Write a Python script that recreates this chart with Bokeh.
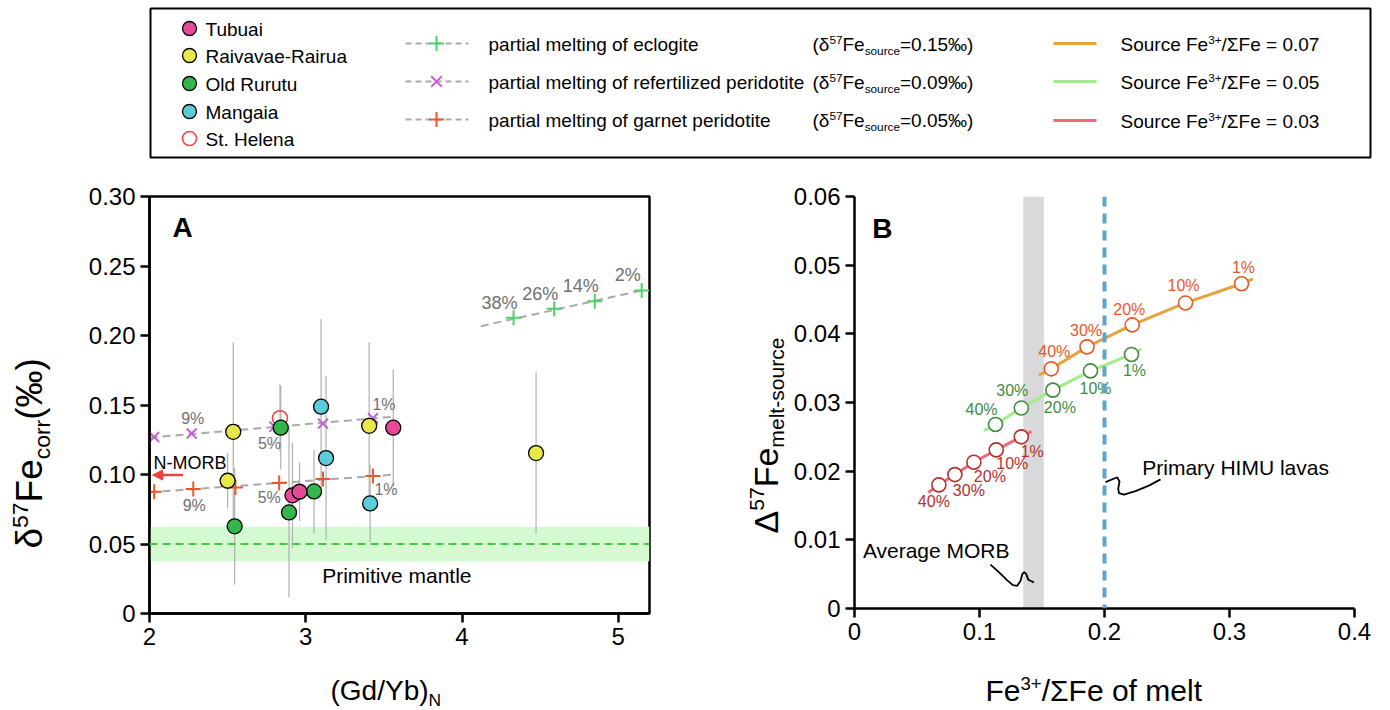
import math
from bokeh.plotting import figure
from bokeh.models import (Range1d, BoxAnnotation, Span, Arrow, NormalHead,
                          FixedTicker, CustomJSTickFormatter)
from bokeh.layouts import column, row
from bokeh.embed import file_html
from bokeh.resources import INLINE
from bokeh.core.properties import value

FONT = "Liberation Sans"

# ---------------- Panel A data ----------------
tubuai_x = [2.915, 2.96, 3.56]
tubuai_y = [0.085, 0.0876, 0.1337]
tubuai_err = [0.038, 0.021, 0.042]

raivavae_x = [2.536, 2.50, 3.406, 4.474]
raivavae_y = [0.1307, 0.0955, 0.135, 0.1154]
raivavae_err = [0.064, 0.02, 0.06, 0.058]

rurutu_x = [2.84, 2.545, 2.893, 3.053]
rurutu_y = [0.1337, 0.0627, 0.0727, 0.0878]
rurutu_err = [0.03, 0.042, 0.061, 0.03]

mangaia_x = [3.098, 3.13, 3.412]
mangaia_y = [0.1488, 0.1118, 0.0792]
mangaia_err = [0.063, 0.059, 0.028]

helena_x = [2.835]
helena_y = [0.1405]
helena_err = [0.024]

eclogite_x = [4.33, 4.59, 4.85, 5.15]
eclogite_y = [0.2127, 0.2192, 0.2247, 0.2324]
eclogite_lbl = ["38%", "26%", "14%", "2%"]
eclogite_trend_x = [4.12, 5.15]
eclogite_trend_y = [0.2067, 0.2324]

refert_x = [2.03, 2.27, 2.54, 2.80, 3.11, 3.43]
refert_y = [0.127, 0.1295, 0.132, 0.1344, 0.1366, 0.1405]
refert_lbl = ["", "9%", "", "5%", "", "1%"]
refert_trend_x = [2.0, 3.55]
refert_trend_y = [0.1265, 0.1415]

garnet_x = [2.03, 2.28, 2.55, 2.83, 3.11, 3.43]
garnet_y = [0.0876, 0.0895, 0.0907, 0.0938, 0.0967, 0.099]
garnet_lbl = ["", "9%", "", "5%", "", "1%"]
garnet_trend_x = [2.0, 3.55]
garnet_trend_y = [0.0872, 0.0998]

nmorb_y = 0.0996
nmorb_x = [2.215, 2.02]
pm_value = 0.05
pm_band = [0.0376, 0.0625]

a_xticks = [2, 3, 4, 5]
a_yticks = [0, 0.05, 0.10, 0.15, 0.20, 0.25, 0.30]

# ---------------- Panel B data ----------------
orange_x = [0.3096, 0.2648, 0.2222, 0.186, 0.1574]
orange_y = [0.0473, 0.0445, 0.0413, 0.0381, 0.0349]
orange_lbl = ["1%", "10%", "20%", "30%", "40%"]
orange_ends_x = [0.3187, 0.1475]
orange_ends_y = [0.0480, 0.0340]

green_x = [0.2216, 0.1888, 0.1587, 0.1334, 0.1128]
green_y = [0.0370, 0.0346, 0.0318, 0.0292, 0.0268]
green_lbl = ["1%", "10%", "20%", "30%", "40%"]
green_ends_x = [0.2296, 0.1035]
green_ends_y = [0.0378, 0.0259]

red_x = [0.1334, 0.1134, 0.0955, 0.0803, 0.0675]
red_y = [0.0250, 0.0231, 0.0213, 0.0195, 0.0180]
red_lbl = ["1%", "10%", "20%", "30%", "40%"]
red_ends_x = [0.1416, 0.0590]
red_ends_y = [0.0258, 0.0169]

morb_band = [0.135, 0.1515]
himu_x = 0.2

morb_curve_x = [0.1088, 0.1155, 0.1222, 0.1267, 0.1302, 0.1328, 0.1342, 0.1358, 0.1374, 0.139, 0.1411, 0.1435]
morb_curve_y = [0.0064, 0.0053, 0.0041, 0.0034, 0.0033, 0.0040, 0.0050, 0.0053, 0.0050, 0.0042, 0.0040, 0.0038]
himu_curve_x = [0.2008, 0.2088, 0.2102, 0.212, 0.211, 0.2115, 0.2155, 0.2248, 0.2355, 0.2448]
himu_curve_y = [0.0184, 0.0190, 0.0191, 0.0185, 0.0175, 0.0168, 0.0166, 0.0171, 0.0179, 0.0188]

b_xticks = [0, 0.1, 0.2, 0.3, 0.4]
b_yticks = [0, 0.01, 0.02, 0.03, 0.04, 0.05, 0.06]

# ---------------- colours ----------------
C_TUB = "#e64a97"
C_RAI = "#e5e848"
C_RUR = "#33b74b"
C_MAN = "#5ccdd8"
C_HEL = "#ee4444"
C_ECL = "#4fd068"
C_REF = "#c462d4"
C_GRT = "#e8582c"
C_TREND = "#aaaaaa"
C_PCT = "#707070"
C_OR_L, C_OR_M = "#e6a43f", "#e8582c"
C_GR_L, C_GR_M = "#a5ea8b", "#3f8c3f"
C_RD_L, C_RD_M = "#f26b7c", "#b3302f"

# Arial / Liberation Sans advance widths (per 1000 em)
WID = {' ': 278, '(': 333, ')': 333, '+': 584, '-': 333, '.': 278, '/': 278, '=': 584,
       'F': 611, 'G': 778, 'N': 722, 'S': 667, 'Y': 667, 'b': 556, 'c': 500, 'd': 556,
       'e': 556, 'f': 278, 'l': 222, 'm': 833, 'o': 556, 'r': 333, 's': 500, 't': 278,
       'u': 556, '‰': 1000, 'δ': 556, 'Δ': 668, 'Σ': 600}


def tw(s, fs):
    return sum(WID.get(ch, 556) for ch in s) * fs / 1000.0


def rich(p, x, y, parts, fs, vertical=False, color="black"):
    """Composite text (super/subscripts); (x, y) is the middle line of the main text,
    in a page-pixel figure whose y axis points down."""
    pos = 0.0
    for txt, kind in parts:
        size = fs if kind == "n" else fs * 0.62
        up = 0 if kind == "n" else (fs * 0.25 if kind == "sup" else -fs * 0.33)
        if vertical:
            gx, gy = x - up, y - pos
        else:
            gx, gy = x + pos, y - up
        p.text(x=[gx], y=[gy], text=[txt], angle=math.pi / 2 if vertical else 0,
               text_font=value(FONT), text_font_size=f"{size:.1f}px", text_align="left",
               text_baseline="middle", text_color=color)
        pos += tw(txt, size)


def pixel_fig(x0, x1, y0, y1):
    p = figure(frame_width=x1 - x0, frame_height=y1 - y0, x_range=Range1d(x0, x1),
               y_range=Range1d(y1, y0), x_axis_type=None, y_axis_type=None,
               toolbar_location=None, output_backend="svg", min_border=0)
    p.outline_line_color = None
    p.grid.visible = False
    return p


def style_axes(p):
    for ax in p.axis:
        ax.axis_line_width = 2.5
        ax.axis_line_color = "black"
        ax.major_tick_line_width = 2.5
        ax.major_tick_out = 9
        ax.major_tick_in = 0
        ax.minor_tick_line_color = None
        ax.major_label_text_font = FONT
        ax.major_label_text_font_size = "24px"
        ax.major_label_text_color = "black"
        ax.major_label_standoff = 5
    p.grid.visible = False


def pct_labels(p, xs, ys, labels, dxs, dys, color, fs):
    sel = [i for i, t in enumerate(labels) if t]
    p.text(x=[xs[i] for i in sel], y=[ys[i] for i in sel], text=[labels[i] for i in sel],
           x_offset=[dxs[i] for i in sel], y_offset=[dys[i] for i in sel],
           text_align="center", text_baseline="middle", text_font=value(FONT),
           text_font_size=fs, text_color=color)


# ================= Legend (page pixels) =================
pl = pixel_fig(0, 1390, 0, 168)
pl.quad(left=[150], right=[1370], top=[8], bottom=[157], fill_color=None,
        line_color="black", line_width=2)

LFS = 19
leg1_rows = [28, 55, 83, 111, 138]
leg1_names = ["Tubuai", "Raivavae-Rairua", "Old Rurutu", "Mangaia", "St. Helena"]
leg1_fill = [C_TUB, C_RAI, C_RUR, C_MAN, None]
leg1_line = ["black", "black", "black", "black", C_HEL]
for yy, nm, fc, lc in zip(leg1_rows, leg1_names, leg1_fill, leg1_line):
    pl.scatter([189], [yy], marker="circle", size=14, fill_color=fc, line_color=lc,
               line_width=1.3 if lc == "black" else 1.6)
    pl.text(x=[205], y=[yy + 1], text=[nm], text_font=value(FONT), text_font_size=f"{LFS}px",
            text_baseline="middle", text_color="black")

leg2_rows = [43, 81, 119]
leg2_names = ["partial melting of eclogite", "partial melting of refertilized peridotite",
              "partial melting of garnet peridotite"]
leg2_marks = ["cross", "x", "cross"]
leg2_cols = [C_ECL, C_REF, C_GRT]
leg2_src = ["0.15", "0.09", "0.05"]
for yy, nm, mk, col, sv in zip(leg2_rows, leg2_names, leg2_marks, leg2_cols, leg2_src):
    pl.line([405, 468], [yy, yy], line_color=C_TREND, line_width=2, line_dash="6 4")
    pl.scatter([436], [yy], marker=mk, size=15, line_color=col, line_width=2)
    pl.text(x=[488], y=[yy + 1], text=[nm], text_font=value(FONT), text_font_size=f"{LFS}px",
            text_baseline="middle", text_color="black")
    rich(pl, 812, yy + 1, [("(δ", "n"), ("57", "sup"), ("Fe", "n"), ("source", "sub"),
                           ("=" + sv + "‰)", "n")], LFS)

leg3_rows = [43, 81, 120]
leg3_cols = [C_OR_L, C_GR_L, C_RD_L]
leg3_vals = ["0.07", "0.05", "0.03"]
for yy, col, sv in zip(leg3_rows, leg3_cols, leg3_vals):
    pl.line([1053, 1096], [yy, yy], line_color=col, line_width=3)
    rich(pl, 1120, yy + 1, [("Source Fe", "n"), ("3+", "sup"), ("/ΣFe = " + sv, "n")], LFS)

# ================= Panel A =================
pa = figure(frame_width=500, frame_height=417, x_range=Range1d(2, 5.2), y_range=Range1d(0, 0.30),
            toolbar_location=None, output_backend="svg",
            min_border_left=74, min_border_right=31, min_border_top=28, min_border_bottom=52)
style_axes(pa)
pa.xaxis.ticker = FixedTicker(ticks=a_xticks)
pa.yaxis.ticker = FixedTicker(ticks=a_yticks)
pa.xaxis.formatter = CustomJSTickFormatter(code="return tick.toFixed(0);")
pa.yaxis.formatter = CustomJSTickFormatter(code="return tick == 0 ? '0' : tick.toFixed(2);")
pa.outline_line_color = "black"
pa.outline_line_width = 2.5

pa.add_layout(BoxAnnotation(bottom=pm_band[0], top=pm_band[1], fill_color="#d5f9d0",
                            fill_alpha=1.0, line_color=None, level="underlay"))
pa.add_layout(Span(location=pm_value, dimension="width", line_color="#45c945",
                   line_width=2, line_dash="8 5"))

for xs, ys, es in [(raivavae_x, raivavae_y, raivavae_err), (rurutu_x, rurutu_y, rurutu_err),
                   (tubuai_x, tubuai_y, tubuai_err), (mangaia_x, mangaia_y, mangaia_err),
                   (helena_x, helena_y, helena_err)]:
    pa.segment(x0=xs, y0=[y - e for y, e in zip(ys, es)], x1=xs,
               y1=[y + e for y, e in zip(ys, es)], line_color="#b0b0b0", line_width=1.2)

pa.line(eclogite_trend_x, eclogite_trend_y, line_color=C_TREND, line_width=2, line_dash="8 5")
pa.line(refert_trend_x, refert_trend_y, line_color=C_TREND, line_width=2, line_dash="8 5")
pa.line(garnet_trend_x, garnet_trend_y, line_color=C_TREND, line_width=2, line_dash="8 5")
pa.scatter(eclogite_x, eclogite_y, marker="cross", size=15, line_color=C_ECL, line_width=2)
pa.scatter(refert_x, refert_y, marker="x", size=14, line_color=C_REF, line_width=2)
pa.scatter(garnet_x, garnet_y, marker="cross", size=15, line_color=C_GRT, line_width=2)

pa.text(x=eclogite_x, y=eclogite_y, text=eclogite_lbl, x_offset=-14, y_offset=-15,
        text_align="center", text_baseline="middle", text_font=value(FONT),
        text_font_size="18px", text_color=C_PCT)
pct_labels(pa, refert_x, refert_y, refert_lbl, [0, 1, 0, -5, 0, 11], [0, -15, 0, 17, 0, -14],
           C_PCT, "16px")
pct_labels(pa, garnet_x, garnet_y, garnet_lbl, [0, 1, 0, -10, 0, 13], [0, 16, 0, 14, 0, 14],
           C_PCT, "16px")

pa.scatter(helena_x, helena_y, marker="circle", size=15, fill_color=None, line_color=C_HEL,
           line_width=1.6)
for xs, ys, col in [(raivavae_x, raivavae_y, C_RAI), (rurutu_x, rurutu_y, C_RUR),
                    (mangaia_x, mangaia_y, C_MAN), (tubuai_x, tubuai_y, C_TUB)]:
    pa.scatter(xs, ys, marker="circle", size=15, fill_color=col, line_color="black",
               line_width=1.3)

pa.add_layout(Arrow(end=NormalHead(size=10, fill_color="#e8453c", line_color="#e8453c"),
                    x_start=nmorb_x[0], y_start=nmorb_y, x_end=nmorb_x[1], y_end=nmorb_y,
                    line_color="#e8453c", line_width=2.5))
pa.text(x=[2.026], y=[0.1086], text=["N-MORB"], text_font=value(FONT), text_font_size="18px",
        text_baseline="middle", text_color="black")
pa.text(x=[3.105], y=[0.0273], text=["Primitive mantle"], text_font=value(FONT),
        text_font_size="21px", text_baseline="middle", text_color="black")
pa.text(x=[2.147], y=[0.2778], text=["A"], text_font=value(FONT), text_font_size="28px",
        text_font_style="bold", text_baseline="middle", text_color="black")

ylab_a = pixel_fig(0, 75, 168, 665)
rich(ylab_a, 29, 520, [("δ", "n"), ("57", "sup"), ("Fe", "n"), ("corr", "sub"), ("(‰)", "n")],
     37, vertical=True)

# ================= Panel B =================
pb = figure(frame_width=500, frame_height=412, x_range=Range1d(0, 0.4), y_range=Range1d(0, 0.06),
            toolbar_location=None, output_backend="svg",
            min_border_left=62, min_border_right=38, min_border_top=26, min_border_bottom=59)
style_axes(pb)
pb.xaxis.ticker = FixedTicker(ticks=b_xticks)
pb.yaxis.ticker = FixedTicker(ticks=b_yticks)
pb.xaxis.formatter = CustomJSTickFormatter(code="return tick == 0 ? '0' : tick.toFixed(1);")
pb.yaxis.formatter = CustomJSTickFormatter(code="return tick == 0 ? '0' : tick.toFixed(2);")
pb.outline_line_color = None

pb.add_layout(BoxAnnotation(left=morb_band[0], right=morb_band[1], fill_color="#d9d9db",
                            fill_alpha=1.0, line_color=None, level="underlay"))
pb.add_layout(Span(location=himu_x, dimension="height", line_color="#5aa7cb",
                   line_width=4, line_dash="10 7"))

for xs, ys, ex, ey, lc in [(orange_x, orange_y, orange_ends_x, orange_ends_y, C_OR_L),
                           (green_x, green_y, green_ends_x, green_ends_y, C_GR_L),
                           (red_x, red_y, red_ends_x, red_ends_y, C_RD_L)]:
    pb.line([ex[0]] + xs + [ex[1]], [ey[0]] + ys + [ey[1]], line_color=lc, line_width=3)

for xs, ys, mc in [(orange_x, orange_y, C_OR_M), (green_x, green_y, C_GR_M), (red_x, red_y, C_RD_M)]:
    pb.scatter(xs, ys, marker="circle", size=14, fill_color="white", line_color=mc, line_width=1.6)

pct_labels(pb, orange_x, orange_y, orange_lbl, [2, -2, -3, -1, 3], [-16, -17, -15, -16, -17],
           C_OR_M, "16px")
pct_labels(pb, green_x, green_y, green_lbl, [3, 5, 7, -9, -14], [16, 18, 17, -17, -15],
           C_GR_M, "16px")
pct_labels(pb, red_x, red_y, red_lbl, [11, 16, 16, 14, -5], [15, 14, 14, 16, 17],
           C_RD_M, "16px")

pb.line(morb_curve_x, morb_curve_y, line_color="black", line_width=1.8)
pb.line(himu_curve_x, himu_curve_y, line_color="black", line_width=1.8)
pb.text(x=[0.0067], y=[0.0084], text=["Average MORB"], text_font=value(FONT),
        text_font_size="21px", text_baseline="middle", text_color="black")
pb.text(x=[0.2302], y=[0.0205], text=["Primary HIMU lavas"], text_font=value(FONT),
        text_font_size="21px", text_baseline="middle", text_color="black")
pb.text(x=[0.0142], y=[0.0553], text=["B"], text_font=value(FONT), text_font_size="28px",
        text_font_style="bold", text_baseline="middle", text_color="black")

ylab_b = pixel_fig(680, 790, 168, 665)
rich(ylab_b, 765, 505, [("Δ", "n"), ("57", "sup"), ("Fe", "n"), ("melt-source", "sub")],
     34, vertical=True)

# ================= bottom strip with the x-axis titles =================
xlab = pixel_fig(0, 1390, 665, 710)
rich(xlab, 330, 690, [("(Gd/Yb)", "n"), ("N", "sub")], 28)
rich(xlab, 985, 690, [("Fe", "n"), ("3+", "sup"), ("/ΣFe of melt", "n")], 30)

layout = column(pl, row(ylab_a, pa, ylab_b, pb), xlab)
open("out.html", "w").write(file_html(layout, INLINE))
